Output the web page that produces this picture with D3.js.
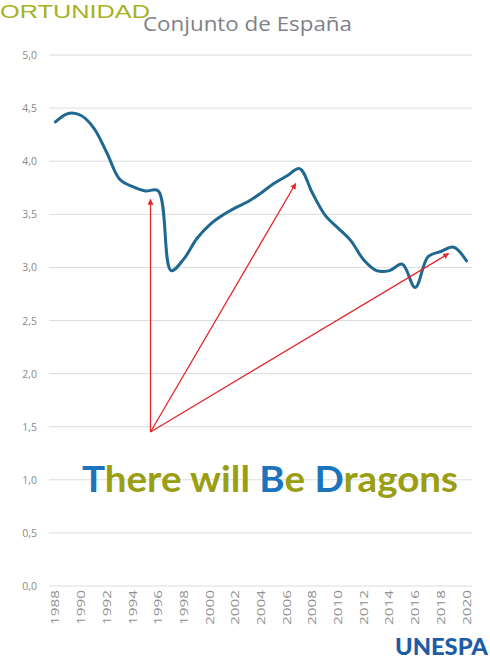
<!DOCTYPE html>
<html><head><meta charset="utf-8">
<script src="https://cdn.jsdelivr.net/npm/d3@7"></script>
<style>html,body{margin:0;padding:0;background:#fff;}svg{display:block;}</style>
</head><body>
<svg id="c" width="490" height="666"></svg>
<script>
const years = [1988,1989,1990,1991,1992,1993,1994,1995,1996,1997,1998,1999,2000,2001,2002,2003,2004,2005,2006,2007,2008,2009,2010,2011,2012,2013,2014,2015,2016,2017,2018,2019,2020];
const values = [4.37,4.45,4.43,4.31,4.08,3.83,3.76,3.72,3.72,2.97,3.08,3.27,3.40,3.49,3.56,3.62,3.70,3.79,3.86,3.93,3.70,3.49,3.37,3.25,3.07,2.97,2.97,3.03,2.81,3.10,3.15,3.19,3.06];
const yTicks = [0,0.5,1,1.5,2,2.5,3,3.5,4,4.5,5];
const xTickYears = [1988,1990,1992,1994,1996,1998,2000,2002,2004,2006,2008,2010,2012,2014,2016,2018,2020];
const arrowOrigin = {year:1995.4, value:1.45};
const arrowTargets = [{year:1995.4, value:3.64},{year:2006.7, value:3.79},{year:2018.6, value:3.13}];
const title = "Conjunto de España";
const topWord = "ORTUNIDAD";
const overlayParts = [{t:"T",c:"#1b74bc"},{t:"here will ",c:"#9a9e12"},{t:"B",c:"#1b74bc"},{t:"e ",c:"#9a9e12"},{t:"D",c:"#1b74bc"},{t:"ragons",c:"#9a9e12"}];

const svg = d3.select("#c");
const mLeft = 49, mRight = 473, mTop = 55, mBottom = 586;
const x = d3.scalePoint().domain(years).range([mLeft, mRight]).padding(0.5);
const step = x.step();
const xv = yr => x(1988) + (yr - 1988) * step;
const y = d3.scaleLinear().domain([0,5]).range([mBottom, mTop]);

// gridlines
svg.append("g").selectAll("line").data(yTicks).join("line")
  .attr("x1", mLeft).attr("x2", mRight - 1)
  .attr("y1", d => y(d)).attr("y2", d => y(d))
  .attr("stroke", "#dcdcdc").attr("stroke-width", 1);

// y labels
const fmt = d => d.toFixed(1).replace(".", ",");
svg.append("g").selectAll("text").data(yTicks).join("text")
  .attr("x", 37).attr("y", d => y(d) + 4)
  .attr("text-anchor", "end")
  .attr("font-family", "Open Sans, sans-serif").attr("font-size", 10.5)
  .attr("fill", "#8a8a8a")
  .text(fmt);

// x labels
svg.append("g").selectAll("text").data(xTickYears).join("text")
  .attr("transform", d => `translate(${x(d) + 4},${590}) rotate(-90)`)
  .attr("text-anchor", "end")
  .attr("font-family", "Open Sans, sans-serif").attr("font-size", 10.5)
  .attr("textLength", 35).attr("lengthAdjust", "spacingAndGlyphs")
  .attr("fill", "#8f8f8f")
  .text(d => d);

// line
const line = d3.line().x((d,i) => x(years[i])).y(d => y(d)).curve(d3.curveCatmullRom.alpha(0.5));
svg.append("path").datum(values).attr("d", line)
  .attr("fill", "none").attr("stroke", "#1f6891").attr("stroke-width", 3)
  .attr("stroke-linejoin", "round").attr("stroke-linecap", "round");

// arrows
svg.append("defs").append("marker").attr("id", "ah")
  .attr("viewBox", "0 0 10 10").attr("refX", 9).attr("refY", 5)
  .attr("markerWidth", 6).attr("markerHeight", 6).attr("orient", "auto")
  .attr("markerUnits", "userSpaceOnUse")
  .append("path").attr("d", "M0,0 L10,5 L0,10 z").attr("fill", "#e3262b");
svg.append("g").selectAll("line").data(arrowTargets).join("line")
  .attr("x1", xv(arrowOrigin.year)).attr("y1", y(arrowOrigin.value))
  .attr("x2", d => xv(d.year)).attr("y2", d => y(d.value))
  .attr("stroke", "#e3262b").attr("stroke-width", 1.3)
  .attr("marker-end", "url(#ah)");

// titles
svg.append("text").attr("x", 0).attr("y", 18)
  .attr("font-family", "Liberation Sans, Arial, sans-serif").attr("font-size", 19)
  .attr("fill", "#a6b21e").attr("textLength", 150).attr("lengthAdjust", "spacingAndGlyphs")
  .text(topWord);
svg.append("text").attr("x", 143).attr("y", 31)
  .attr("font-family", "Open Sans, sans-serif").attr("font-size", 20)
  .attr("fill", "#7f8288").attr("textLength", 209).attr("lengthAdjust", "spacingAndGlyphs")
  .text(title);

// overlay text
const ot = svg.append("text").attr("x", 82).attr("y", 492)
  .attr("font-family", "Lato, sans-serif").attr("font-weight", "bold").attr("font-size", 37)
  .attr("textLength", 376).attr("lengthAdjust", "spacingAndGlyphs")
  .style("white-space", "pre");
ot.selectAll("tspan").data(overlayParts).join("tspan")
  .attr("fill", d => d.c).text(d => d.t);

// logo
svg.append("text").attr("x", 395).attr("y", 655)
  .attr("font-family", "Lato, sans-serif").attr("font-weight", "900").attr("font-size", 23)
  .attr("fill", "#1e5ca6").attr("textLength", 93).attr("lengthAdjust", "spacingAndGlyphs")
  .text("UNESPA");
</script>
</body></html>
